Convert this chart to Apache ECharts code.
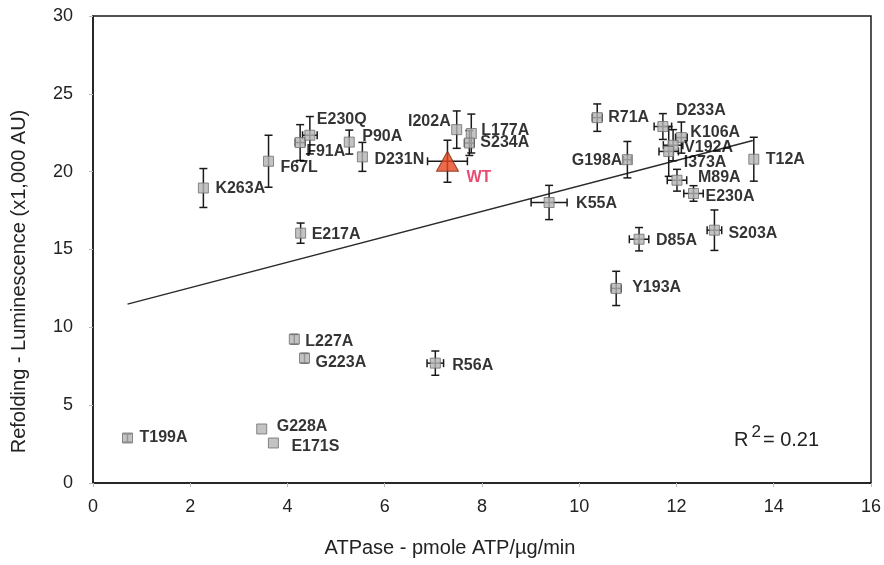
<!DOCTYPE html>
<html>
<head>
<meta charset="utf-8">
<script src="https://cdn.jsdelivr.net/npm/echarts@6/dist/echarts.min.js"></script>
<style>
html,body{margin:0;padding:0;background:#fff;}
#chart{width:884px;height:565px;}
</style>
</head>
<body>
<div id="chart"></div>
<script>
// ---- data ----
const names   = ['T199A','G228A','E171S','L227A','G223A','R56A','K263A','F67L','E217A','F91A','E230Q','P90A','D231N','WT','I202A','L177A','S234A','K55A','R71A','G198A','D233A','K106A','V192A','I373A','T12A','M89A','E230A','D85A','S203A','Y193A'];
const atpase  = [0.71,3.47,3.71,4.14,4.35,7.04,2.27,3.61,4.27,4.26,4.46,5.27,5.54,7.29,7.48,7.78,7.74,9.38,10.37,10.99,11.72,12.10,11.93,11.84,13.59,12.01,12.35,11.23,12.78,10.76];
const lumin   = [2.89,3.47,2.57,9.24,8.02,7.70,18.95,20.67,16.05,21.87,22.34,21.90,20.95,20.67,22.70,22.45,21.84,18.02,23.47,20.77,22.90,22.19,21.70,21.30,20.80,19.45,18.60,15.66,16.24,12.50];
const atpaseErr = [0,0,0,0,0,0.17,0,0,0,0.10,0.15,0,0,0.41,0,0,0.10,0.37,0.10,0.08,0.18,0.12,0.20,0.20,0,0.20,0.20,0.20,0.15,0.10];
const luminErr  = [0.25,0,0,0.30,0.30,0.78,1.25,1.67,0.65,1.15,1.20,0.77,0.93,1.35,1.20,1.25,0.80,1.10,0.88,1.17,0.83,1.00,1.00,1.60,1.41,0.70,0.50,0.75,1.30,1.10];
const trendX = [0.71, 13.57];
const trendY = [11.49, 22.0];
const xTicks = [0, 16, 2];
const yTicks = [0, 30, 5];
const r2Text = '0.21';

// ---- label layout (pixel offsets from marker centre) ----
const labelDx = [12,15,18,11,11,17,12,12,11,6,7,13,12,19,-6,10,11,27,11,-5,13,9,11,15,12,21,12,17,14,16];
const labelDy = [0,-2,4,2,4,2,1,6,1,9,-16,-5,3,16,-8,-3,0,1,0,1,-16,-5,2,11,0,-3,3,1,3,-1];

const FONT = '"Liberation Sans", Arial, sans-serif';
const chart = echarts.init(document.getElementById('chart'), null, {renderer:'canvas'});

const wtIndex = names.indexOf('WT');
const pts = names.map((n,i)=>({
  value:[atpase[i], lumin[i], atpaseErr[i], luminErr[i]],
  name:n,
  symbol: i===wtIndex ? 'triangle' : 'rect',
  symbolSize: i===wtIndex ? [22,20] : 10,
  itemStyle: i===wtIndex ? {color:'#e8461e', borderColor:'#7a2a12', borderWidth:1} : {color:'#b4b4b4', borderColor:'#6e6e6e', borderWidth:1},
  label:{
    show:true,
    position:'inside',
    align: labelDx[i] < 0 ? 'right' : 'left',
    verticalAlign:'middle',
    offset:[labelDx[i], labelDy[i]],
    formatter:n,
    color: i===wtIndex ? '#e51e4e' : '#000',
    fontWeight:'bold',
    fontSize:16,
    fontFamily:FONT
  }
}));

function renderErr(params, api){
  const x = api.value(0), y = api.value(1), xe = api.value(2), ye = api.value(3);
  const style = {stroke:'#1a1a1a', lineWidth:1.5, fill:null};
  const ch = [];
  const cap = 4;
  if (ye > 0){
    const t = api.coord([x, y+ye]), b = api.coord([x, y-ye]);
    ch.push({type:'line', shape:{x1:t[0],y1:t[1],x2:b[0],y2:b[1]}, style});
    ch.push({type:'line', shape:{x1:t[0]-cap,y1:t[1],x2:t[0]+cap,y2:t[1]}, style});
    ch.push({type:'line', shape:{x1:b[0]-cap,y1:b[1],x2:b[0]+cap,y2:b[1]}, style});
  }
  if (xe > 0){
    const l = api.coord([x-xe, y]), r = api.coord([x+xe, y]);
    ch.push({type:'line', shape:{x1:l[0],y1:l[1],x2:r[0],y2:r[1]}, style});
    ch.push({type:'line', shape:{x1:l[0],y1:l[1]-cap,x2:l[0],y2:l[1]+cap}, style});
    ch.push({type:'line', shape:{x1:r[0],y1:r[1]-cap,x2:r[0],y2:r[1]+cap}, style});
  }
  return {type:'group', children:ch};
}

const option = {
  backgroundColor:'#fff',
  animation:false,
  grid:{left:93, right:7, top:16, bottom:82, show:true, borderColor:'#1a1a1a', borderWidth:1.5, backgroundColor:'transparent'},
  xAxis:{
    type:'value', min:xTicks[0], max:xTicks[1], interval:xTicks[2],
    name:'ATPase - pmole ATP/\u00b5g/min', nameLocation:'middle', nameGap:55,
    nameTextStyle:{fontSize:20, color:'#222', fontFamily:FONT, padding:[0,64,0,0]},
    axisLine:{show:true, onZero:false, lineStyle:{color:'#1a1a1a', width:1.5}},
    axisTick:{show:true, length:4, inside:false, lineStyle:{color:'#bbb'}},
    axisLabel:{fontSize:18, color:'#222', fontFamily:FONT, margin:15},
    splitLine:{show:false}
  },
  yAxis:{
    type:'value', min:yTicks[0], max:yTicks[1], interval:yTicks[2],
    name:'Refolding - Luminescence (x1,000 AU)', nameLocation:'middle', nameGap:64,
    nameTextStyle:{fontSize:20, color:'#222', fontFamily:FONT, padding:[0,64,0,0]},
    axisLine:{show:true, onZero:false, lineStyle:{color:'#1a1a1a', width:1.5}},
    axisTick:{show:true, length:4, inside:false, lineStyle:{color:'#bbb'}},
    axisLabel:{fontSize:18, color:'#222', fontFamily:FONT, margin:20},
    splitLine:{show:false}
  },
  series:[
    {
      type:'line', data:trendX.map((x,i)=>[x, trendY[i]]),
      symbol:'none', lineStyle:{color:'#2a2a2a', width:1.5}, z:1, silent:true
    },
    {
      type:'custom', renderItem:renderErr, data:pts.map(p=>p.value), z:2, silent:true,
      encode:{x:0, y:1}
    },
    {
      type:'scatter', data:pts, z:3
    }
  ],
  graphic:[{
    type:'text', left:734, top:424,
    style:{
      text:'{a|R}{b|2}{a|= ' + r2Text + '}',
      rich:{
        a:{fontSize:20, fontFamily:FONT, fill:'#222', color:'#222', verticalAlign:'bottom', lineHeight:26},
        b:{fontSize:17, fontFamily:FONT, fill:'#222', color:'#222', verticalAlign:'top', lineHeight:26, padding:[0,2,7,3]}
      }
    }
  }]
};
chart.setOption(option);
</script>
</body>
</html>
